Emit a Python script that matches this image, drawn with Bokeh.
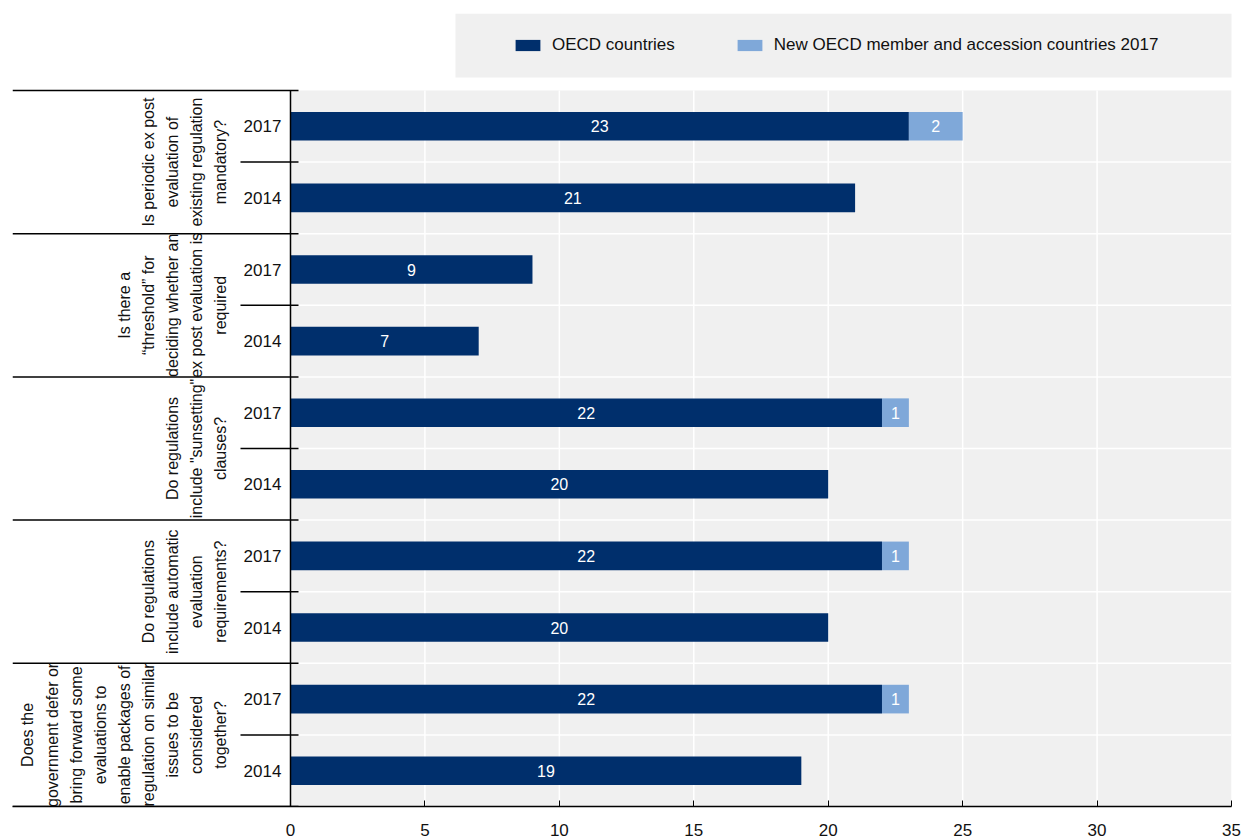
import math
from bokeh.plotting import figure
from bokeh.models import (ColumnDataSource, Range1d, FixedTicker, BoxAnnotation,
                          Legend, LegendItem)
from bokeh.core.properties import value
from bokeh.embed import file_html
from bokeh.resources import INLINE

# ---------------- data ----------------
questions = [
    "Is periodic ex post\nevaluation of\nexisting regulation\nmandatory?",
    "Is there a\n\u201cthreshold\u201d for\ndeciding whether an\nex post evaluation is\nrequired",
    "Do regulations\ninclude \"sunsetting\"\nclauses?",
    "Do regulations\ninclude automatic\nevaluation\nrequirements?",
    "Does the\ngovernment defer or\nbring forward some\nevaluations to\nenable packages of\nregulation on similar\nissues to be\nconsidered\ntogether?",
]
years = ["2017", "2014"]
oecd_2017 = [23, 9, 22, 22, 22]
new_2017 = [2, 0, 1, 1, 1]
oecd_2014 = [21, 7, 20, 20, 19]
x_ticks = [0, 5, 10, 15, 20, 25, 30, 35]
series_names = ["OECD countries", "New OECD member and accession countries 2017"]

# ---------------- style ----------------
DARK = "#002F6C"
LIGHT = "#7FA8D9"
BG = "#F0F0F0"
TXT = "#111111"
FONT = "Liberation Sans, Arial, sans-serif"

W, H = 1242, 840
FL, FR, FT, FB = 12, 1231, 13, 806   # frame edges in px (frame extends up to legend)
PLOT_TOP = 90                        # top of the bar area in px
ZERO_PX = 290
x_max = x_ticks[-1]
ppu = (FR - ZERO_PX) / x_max
x_start = -(ZERO_PX - FL) / ppu

n_groups = len(questions)
n_slots = n_groups * len(years)
slot_px = (FB - PLOT_TOP) / n_slots
y_top = n_slots + (PLOT_TOP - FT) / slot_px

# slot centres (top to bottom)
rows_y, rows_year, rows_oecd, rows_new = [], [], [], []
for g in range(n_groups):
    for k, yr in enumerate(years):
        slot = g * len(years) + k
        rows_y.append(n_slots - slot - 0.5)
        rows_year.append(yr)
        if yr == "2017":
            rows_oecd.append(oecd_2017[g])
            rows_new.append(new_2017[g])
        else:
            rows_oecd.append(oecd_2014[g])
            rows_new.append(0)

src = ColumnDataSource(dict(
    y=rows_y, year=rows_year, oecd=rows_oecd,
    oecd_mid=[a / 2 for a in rows_oecd],
    oecd_lbl=[str(a) for a in rows_oecd],
))
new_idx = [i for i, v in enumerate(rows_new) if v > 0]
src_new = ColumnDataSource(dict(
    y=[rows_y[i] for i in new_idx],
    left=[rows_oecd[i] for i in new_idx],
    right=[rows_oecd[i] + rows_new[i] for i in new_idx],
    mid=[rows_oecd[i] + rows_new[i] / 2 for i in new_idx],
    lbl=[str(rows_new[i]) for i in new_idx],
))

p = figure(width=W, height=H,
           x_range=Range1d(x_start, x_max), y_range=Range1d(0, y_top),
           min_border_left=FL, min_border_right=W - FR, min_border_top=FT,
           min_border_bottom=H - FB, y_axis_location=None,
           output_backend="svg", toolbar_location=None,
           background_fill_color="white", border_fill_color="white",
           outline_line_color=None)
p.xgrid.grid_line_color = None
p.ygrid.grid_line_color = None

# plot background (only over value area)
p.quad(left=x_ticks[0], right=x_max, bottom=0, top=n_slots,
       fill_color=BG, line_color=None, level="image")

# grid lines
gx = x_ticks[1:-1]
p.segment(x0=gx, x1=gx, y0=[0] * len(gx), y1=[n_slots] * len(gx),
          line_color="white", line_width=1.5)
bounds = list(range(1, n_slots))
p.segment(x0=[x_ticks[0]] * len(bounds), x1=[x_max] * len(bounds),
          y0=bounds, y1=bounds, line_color="white", line_width=1.5)

# x axis
ax = p.xaxis[0]
ax.ticker = FixedTicker(ticks=x_ticks)
ax.axis_line_color = "black"
ax.axis_line_width = 1.5
ax.major_tick_in = 6
ax.major_tick_out = 0
ax.major_tick_line_color = "black"
ax.major_tick_line_width = 1
ax.minor_tick_in = 0
ax.minor_tick_out = 0
ax.major_label_text_font = FONT
ax.major_label_text_font_size = "17px"
ax.major_label_text_color = TXT
ax.major_label_standoff = 17

# bars
r1 = p.hbar(y="y", left=0, right="oecd", height=0.4, source=src,
            fill_color=DARK, line_color=None)
r2 = p.hbar(y="y", left="left", right="right", height=0.4, source=src_new,
            fill_color=LIGHT, line_color=None)
p.text(x="oecd_mid", y="y", text="oecd_lbl", source=src, text_color="white",
       text_font=value(FONT), text_font_size="16px", text_align="center",
       text_baseline="middle")
p.text(x="mid", y="y", text="lbl", source=src_new, text_color="white",
       text_font=value(FONT), text_font_size="16px", text_align="center",
       text_baseline="middle")

# vertical axis line at zero
p.segment(x0=[0], x1=[0], y0=[0], y1=[n_slots], line_color="black", line_width=1.5)

# left-hand category separators
tick_x1 = 8 / ppu
grp_b = [g * len(years) for g in range(n_groups + 1)]
p.segment(x0=[x_start] * len(grp_b), x1=[tick_x1] * len(grp_b), y0=grp_b, y1=grp_b,
          line_color="black", line_width=1.5)
yr_b = [g * len(years) + 1 for g in range(n_groups)]
p.segment(x0=[-50 / ppu] * len(yr_b), x1=[tick_x1] * len(yr_b), y0=yr_b, y1=yr_b,
          line_color="black", line_width=1.5)

# year labels
p.text(x=0, y="y", text="year", source=src, x_offset=-28, text_color=TXT,
       text_font=value(FONT), text_font_size="17px", text_align="center",
       text_baseline="middle")

# question labels
q_y = [n_slots - g * len(years) - len(years) / 2 for g in range(n_groups)]
p.text(x=[0] * n_groups, y=q_y, text=questions, x_offset=-61, angle=math.pi / 2,
       text_color=TXT, text_font=value(FONT), text_font_size="16px",
       text_align="center", text_baseline="bottom", text_line_height=1.42)

# legend background + legend
p.add_layout(BoxAnnotation(left=455, right=1232, top=13, bottom=77,
                           left_units="canvas", right_units="canvas",
                           top_units="canvas", bottom_units="canvas",
                           fill_color=BG, fill_alpha=1, line_color=None,
                           level="underlay"))
legend = Legend(items=[LegendItem(label=series_names[0], renderers=[r1]),
                       LegendItem(label=series_names[1], renderers=[r2])],
                orientation="horizontal", location=(512 - FL, FB - 55),
                background_fill_alpha=0, border_line_color=None,
                padding=0, margin=0, spacing=59, glyph_width=31, glyph_height=14,
                label_standoff=9, label_height=20,
                label_text_font=FONT, label_text_font_size="17px",
                label_text_color=TXT)
p.add_layout(legend)

open("out.html", "w").write(file_html(p, INLINE))
